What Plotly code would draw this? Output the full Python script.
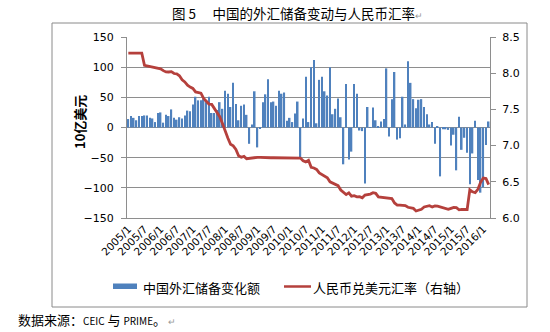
import plotly.graph_objects as go

# Monthly categories 2005/1 .. 2016/3
months = [f"{y}/{m}" for y in range(2005, 2017) for m in range(1, 13)][:135]
tick_labels = months[::6]

# Monthly change in China's FX reserves (USD bn)
reserve_change = [
    14, 19, 16, 12, 19, 19, 20, 20, 16, 15, 9, 24,          # 2005
    25, 8, 21, 19, 30, 16, 13, 17, 15, 20, 28, 27,          # 2006
    38, 51, 45, 45, 47, 42, 51, 24, 24, 29, 42, 31,         # 2007
    61, 56, 34, 74, 39, 12, 36, 38, 21, -27, 5, 60,         # 2008
    -33, -1, 42, 55, 80, 42, 43, 36, 61, 56, 58, 11,        # 2009
    16, 9, 23, 43, -51, 15, 84, 9, 100, 112, 7, 79,         # 2010
    84, 60, 53, 100, 22, 31, 48, 17, -61, 72, -53, -40,     # 2011
    72, 56, -5, -6, -93, 34, -0.2, 33, 12, 2, 10, 14,       # 2012
    98, -15, 47, 92, -20, -18, 51, 5, 110, 74, 47, 32,      # 2013
    46, 47, 34, 22, 5, 9, -27, 2.5, -81, -3, -3, -4,        # 2014
    -30, -12, -71, 18, -37, -17, -42, -94, -43, 11, -87, -108,  # 2015
    -99, -29, 10,                                           # 2016
]

# RMB per USD (right axis)
rmb_rate = [
    8.2765, 8.2765, 8.2765, 8.2765, 8.2765, 8.2765, 8.1097, 8.1000, 8.0920, 8.0845, 8.0805, 8.0702,
    8.0608, 8.0352, 8.0170, 8.0165, 8.0215, 7.9956, 7.9897, 7.9640, 7.9087, 7.8792, 7.8340, 7.8087,
    7.7898, 7.7410, 7.7342, 7.7247, 7.6516, 7.6155, 7.5737, 7.5693, 7.5108, 7.4555, 7.3997, 7.3046,
    7.1918, 7.1058, 7.0190, 6.9965, 6.9472, 6.8591, 6.8388, 6.8503, 6.8183, 6.8258, 6.8303, 6.8346,
    6.8382, 6.8379, 6.8359, 6.8263, 6.8292, 6.8319, 6.8322, 6.8321, 6.8290, 6.8271, 6.8275, 6.8282,
    6.8270, 6.8269, 6.8263, 6.8263, 6.8284, 6.7909, 6.7750, 6.7975, 6.7011, 6.6908, 6.6710, 6.6227,
    6.6023, 6.5713, 6.5564, 6.4990, 6.4845, 6.4716, 6.4470, 6.3867, 6.3549, 6.3233, 6.3482, 6.3009,
    6.3080, 6.2919, 6.2943, 6.2787, 6.3172, 6.3249, 6.3310, 6.3495, 6.3410, 6.2910, 6.2855, 6.2855,
    6.2795, 6.2779, 6.2689, 6.2078, 6.1796, 6.1787, 6.1788, 6.1709, 6.1480, 6.1425, 6.1325, 6.0969,
    6.1050, 6.1214, 6.1521, 6.1560, 6.1695, 6.1528, 6.1675, 6.1647, 6.1525, 6.1461, 6.1345, 6.1190,
    6.1334, 6.1475, 6.1422, 6.1137, 6.1196, 6.1136, 6.1172, 6.3893, 6.3613, 6.3495, 6.3962, 6.4936,
    6.5516, 6.5452, 6.4612,
]

series_names = ["中国外汇储备变化额", "人民币兑美元汇率（右轴）"]

W, H = 550, 332
L, R, T, B = 127, 60, 37, 114
PW, PH = W - L - R, H - T - B

def px(x):
    return (x - L) / PW

def py(y):
    return (H - B - y) / PH

BLUE = "#4F81BD"
RED = "#B5403C"
GRID = "#8E8E8E"
CJK = "Noto Sans CJK SC"
NUM = "DejaVu Sans"

fig = go.Figure()
fig.add_trace(go.Bar(
    x=months, y=reserve_change, name=series_names[0],
    marker=dict(color=BLUE, line=dict(width=0)), width=0.58,
    yaxis="y", showlegend=False,
))
fig.add_trace(go.Scatter(
    x=months, y=rmb_rate, name=series_names[1], mode="lines",
    line=dict(color=RED, width=2.8), yaxis="y2", showlegend=False,
))

fig.update_layout(
    width=W, height=H,
    margin=dict(l=L, r=R, t=T, b=B, autoexpand=False),
    paper_bgcolor="white", plot_bgcolor="white",
    font=dict(family=NUM, size=10.5, color="#000"),
    xaxis=dict(
        type="category", range=[-0.5, len(months) - 0.5],
        tickmode="array", tickvals=tick_labels, ticktext=tick_labels,
        tickangle=-45, tickfont=dict(family=NUM, size=10.5, color="#000"),
        showgrid=False, showline=True, linecolor=GRID, ticks="",
    ),
    yaxis=dict(
        range=[-150, 150], dtick=50, tick0=-150,
        showgrid=True, gridcolor=GRID, gridwidth=1,
        zeroline=False, showline=True, linecolor=GRID,
        ticks="outside", ticklen=5, tickcolor=GRID,
        ticklabelstandoff=5, tickfont=dict(family=NUM, size=11, color="#000"),
    ),
    yaxis2=dict(
        range=[6.0, 8.5], dtick=0.5, tick0=6.0, tickformat=".1f",
        overlaying="y", side="right", showgrid=False, zeroline=False,
        showline=True, linecolor=GRID, ticks="outside", ticklen=5,
        tickcolor=GRID, ticklabelstandoff=4,
        tickfont=dict(family=NUM, size=11, color="#000"),
    ),
)

shapes = [
    # chart frame
    dict(type="rect", xref="paper", yref="paper",
         x0=px(52), x1=px(527), y0=py(307), y1=py(23),
         line=dict(color="#8A8A8A", width=1), fillcolor="rgba(0,0,0,0)", layer="below"),
    # legend swatches
    dict(type="rect", xref="paper", yref="paper",
         x0=px(113), x1=px(137), y0=py(289), y1=py(283.5),
         line=dict(width=0), fillcolor=BLUE),
    dict(type="line", xref="paper", yref="paper",
         x0=px(284), x1=px(311), y0=py(286.5), y1=py(286.5),
         line=dict(color=RED, width=2.5)),
]

annotations = [
    dict(text="图 5　 中国的外汇储备变动与人民币汇率<span style='color:#999;font-size:9px'>↵</span>",
         x=px(170), y=py(13), xanchor="left", yanchor="middle",
         font=dict(family=CJK, size=13.5, color="#000")),
    dict(text="<b>10亿美元</b>", textangle=-90, x=px(79), y=py(122),
         xanchor="center", yanchor="middle",
         font=dict(family=CJK, size=13, color="#000")),
    dict(text=series_names[0], x=px(141), y=py(287), xanchor="left", yanchor="middle",
         font=dict(family=CJK, size=13, color="#000")),
    dict(text=series_names[1], x=px(311), y=py(287), xanchor="left", yanchor="middle",
         font=dict(family=CJK, size=13, color="#000")),
    dict(text="数据来源：<span style='font-size:10px'>CEIC</span> 与 "
              "<span style='font-size:10px'>PRIME</span>。"
              "<span style='color:#999;font-size:9px'> ↵</span>",
         x=px(16), y=py(319), xanchor="left", yanchor="middle",
         font=dict(family=CJK, size=13, color="#000")),
]
for a in annotations:
    a.update(xref="paper", yref="paper", showarrow=False)

fig.update_layout(shapes=shapes, annotations=annotations)
fig.write_html("out.html")
